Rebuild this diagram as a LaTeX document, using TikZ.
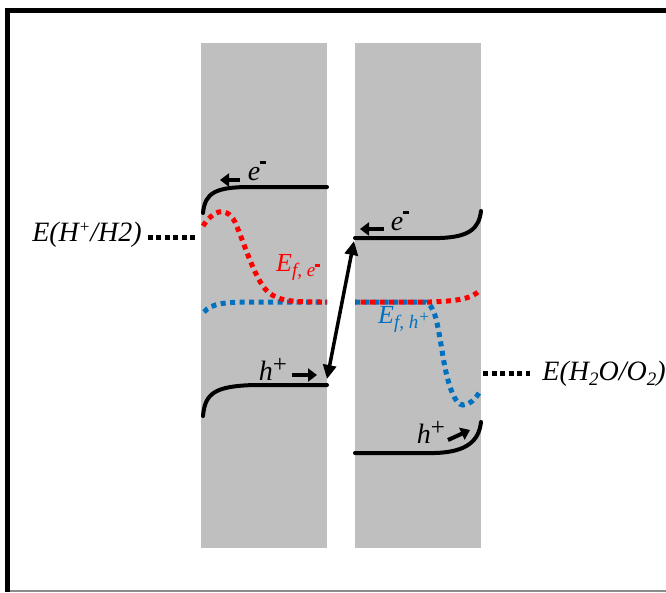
\documentclass[tikz,border=0pt]{standalone}
\usepackage{fontspec}
\setmainfont{Liberation Serif}[
  UprightFont=Liberation Serif,
  ItalicFont=Liberation Serif Italic,
  BoldFont=Liberation Serif Bold,
  BoldItalicFont=Liberation Serif Bold Italic]
\usetikzlibrary{arrows.meta}
\definecolor{slab}{HTML}{BFBFBF}
\definecolor{fermiblue}{HTML}{0070C0}
\definecolor{fermired}{HTML}{FF0000}
% raised / lowered small text
\newcommand{\upsm}[2]{\raisebox{#1}{\fontsize{17}{17}\selectfont #2}}
\newcommand{\upbig}[2]{\raisebox{#1}{\fontsize{25}{25}\selectfont\upshape #2}}
\newcommand{\dnsm}[2]{\raisebox{#1}{\fontsize{19}{19}\selectfont #2}}
\newcommand{\minusbar}{\rule{6pt}{3pt}}
\newcommand{\minussm}{\rule{4.5pt}{2.5pt}}
\tikzset{
  band/.style={line width=4pt, line cap=round},
  quasi/.style={line width=5pt, dash pattern=on 5pt off 4.5pt},
  leader/.style={line width=5pt, black, dash pattern=on 5pt off 3.5pt},
  carrier/.style={line width=4pt, -{Triangle[length=9pt,width=13pt]}},
  lbl/.style={font=\fontsize{28}{30}\selectfont\itshape, inner sep=0pt},
  flbl/.style={font=\fontsize{26}{28}\selectfont\itshape, inner sep=0pt},
}
\begin{document}
\begin{tikzpicture}[x=1pt,y=-1pt]
\useasboundingbox (0,0) rectangle (666,592);

% frame
\draw[line width=5pt] (7.5,592) -- (7.5,10.5) -- (666,10.5);
\draw[line width=1.5pt, black!45] (10,591) -- (666,591);

% the two semiconductor slabs
\fill[slab] (201,43) rectangle (327,548);
\fill[slab] (355,43) rectangle (481,548);

% left slab: conduction and valence bands
\draw[band] (203,213) .. controls (205,193) and (215,187) .. (250,187) -- (327,187);
\draw[band] (203,416) .. controls (205,393) and (215,386) .. (255,385) -- (327,385);

% right slab: conduction and valence bands
\draw[band] (355,238) -- (440,238) .. controls (470,237) and (479,228) .. (481,211);
\draw[band] (355,453) -- (435,453) .. controls (468,452) and (479,440) .. (481,422);

% quasi-Fermi levels
\draw[quasi, fermiblue] (204,312) .. controls (212,303) and (225,302) .. (255,302) -- (327,302);
\draw[quasi, fermiblue] (355,302) -- (425,302) .. controls (435,305) and (437,322) .. (442,350)
  .. controls (447,385) and (455,405) .. (463,405) .. controls (470,405) and (476,398) .. (479,393);
\draw[quasi, fermired] (203,226) .. controls (212,212) and (225,204) .. (235,222)
  .. controls (245,245) and (255,280) .. (268,292) .. controls (280,302) and (295,302) .. (327,302);
\draw[quasi, fermired, dash phase=4pt] (355,302) -- (430,302) .. controls (460,301) and (472,298) .. (479,291);

% Z-scheme recombination
\coordinate (vbL) at (327,379);
\coordinate (cbR) at (354,241);
\draw[line width=3.5pt, {Triangle[length=14pt,width=13pt]}-{Triangle[length=14pt,width=13pt]}] (vbL) -- (cbR);

% carrier drift arrows
\coordinate (eLs) at (240,180); \coordinate (eLe) at (220,180);
\coordinate (eRs) at (384,229); \coordinate (eRe) at (360,229);
\coordinate (hLs) at (292,375); \coordinate (hLe) at (317,375);
\coordinate (hRs) at (448,440); \coordinate (hRe) at (470,430);
\draw[carrier] (eLs) -- (eLe);
\draw[carrier] (eRs) -- (eRe);
\draw[carrier] (hLs) -- (hLe);
\draw[carrier] (hRs) -- (hRe);

\node[lbl] (eL) at (257,171) {e\upsm{17pt}{\minusbar}};
\node[lbl] (eR) at (400,221) {e\upsm{17pt}{\minusbar}};
\node[lbl] (hL) at (273,369) {h\upbig{8pt}{+}};
\node[lbl] (hR) at (431,432) {h\upbig{8pt}{+}};

% quasi-Fermi level labels
\node[flbl, text=fermired] (efe) at (298,268) {E\dnsm{-5pt}{f, e\upsm{10pt}{\minussm}}};
\node[flbl, text=fermiblue] (efh) at (404,320) {E\dnsm{-5pt}{f, h\upsm{6pt}{+}}};

% redox potentials
\node[lbl] (hred) at (87,235) {E(H\upsm{9pt}{+}/H2)};
\coordinate (hredEnd) at (198,237);
\draw[leader] ([xshift=6pt,yshift=-2pt]hred.east) -- (hredEnd);

\node[lbl] (ored) at (604,374) {E(H\dnsm{-5pt}{2}O/O\dnsm{-5pt}{2})};
\coordinate (oredStart) at (483,373);
\draw[leader] (oredStart) -- ([xshift=-12pt,yshift=1pt]ored.west);
\end{tikzpicture}
\end{document}
